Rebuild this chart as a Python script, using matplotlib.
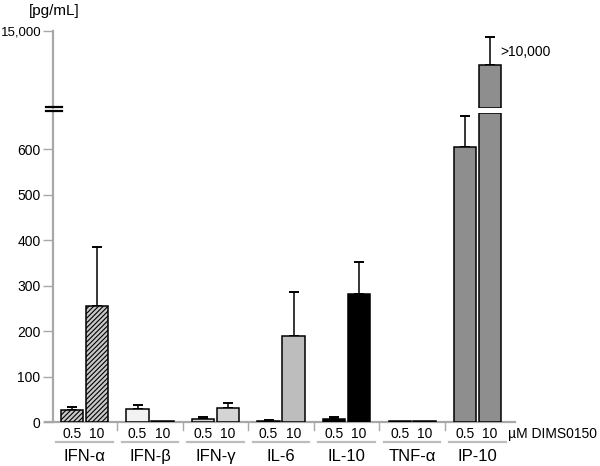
import matplotlib
matplotlib.use("Agg")
import matplotlib.pyplot as plt
import numpy as np

plt.rcParams['font.family'] = ['Liberation Sans', 'DejaVu Sans']
plt.rcParams['hatch.linewidth'] = 0.8

cytokines = ["IFN-α", "IFN-β", "IFN-γ", "IL-6", "IL-10", "TNF-α", "IP-10"]
conc_labels = ["0.5", "10"]
vals_05 = [26, 28, 6, 2, 6, 1.5, 605]
errs_05 = [6, 9, 4, 2, 4, 0, 68]
vals_10 = [255, 1.5, 30, 190, 282, 1.5, 10600]
errs_10 = [130, 0, 11, 95, 70, 0, 3600]
facecolors = ["#c8c8c8", "#f2f2f2", "#d4d4d4", "#bdbdbd", "#000000", "#000000", "#8e8e8e"]
hatches = ["///////", None, None, None, None, None, None]
lower_ticks = [0, 100, 200, 300, 400, 500, 600]
upper_ticks = [15000]

LOW_MAX = 679
UP_MIN, UP_MAX = 5000, 15000
GRAY = "#a8a8a8"

fig = plt.figure(figsize=(6.0, 4.66), dpi=100)
ax = fig.add_axes([53/600, 1-422/466, 462/600, (422-113.3)/466])
axu = fig.add_axes([53/600, 1-108/466, 462/600, (108-31)/466])

x = np.arange(len(cytokines))
w = 0.34
off = 0.19
xlim = (-0.48, 6.57)

for a in (ax, axu):
    a.set_xlim(*xlim)
    for s in ("top", "right", "bottom"):
        a.spines[s].set_visible(False)
    a.spines["left"].set_color(GRAY)
    a.spines["left"].set_linewidth(1.6)
    a.tick_params(axis="y", direction="out", length=7, width=1.0, color=GRAY,
                  labelsize=10, pad=2)
    a.set_xticks([])
axu.tick_params(axis="y", labelsize=9.5, pad=1.5)

ax.set_ylim(0, LOW_MAX)
ax.set_yticks(lower_ticks)
axu.set_ylim(UP_MIN, UP_MAX)
axu.set_yticks(upper_ticks)
axu.set_yticklabels([f"{t:,}" for t in upper_ticks])

for i in range(len(cytokines)):
    for xpos, v, e in ((x[i]-off, vals_05[i], errs_05[i]), (x[i]+off, vals_10[i], errs_10[i])):
        kw = dict(width=w, color=facecolors[i], edgecolor="black", linewidth=1.1,
                  hatch=hatches[i], zorder=3)
        low_h = min(v, LOW_MAX)
        ax.bar(xpos, low_h, **kw)
        if v > LOW_MAX:
            axu.bar(xpos, v - UP_MIN, bottom=UP_MIN, **kw)
            if e > 0:
                axu.errorbar(xpos, v, yerr=[[0], [e]], fmt="none", ecolor="black",
                             elinewidth=1.1, capsize=3.6, capthick=1.4, zorder=2)
        elif e > 0:
            ax.errorbar(xpos, v, yerr=[[0], [e]], fmt="none", ecolor="black",
                        elinewidth=1.1, capsize=3.6, capthick=1.4, zorder=2)

# baseline
ax.plot([-0.603, xlim[1]], [0, 0], color=GRAY, lw=1.6, clip_on=False, zorder=2)

xt = ax.get_xaxis_transform()
for i in range(len(cytokines) - 1):
    ax.plot([x[i]+0.5, x[i]+0.5], [0, -0.026], color=GRAY, lw=1.0,
            transform=xt, clip_on=False)
for i, name in enumerate(cytokines):
    ax.text(x[i]-off, -0.039, conc_labels[0], transform=xt, ha="center", va="center", fontsize=10)
    ax.text(x[i]+off, -0.039, conc_labels[1], transform=xt, ha="center", va="center", fontsize=10)
    ax.plot([x[i]-0.43, x[i]+0.43], [-0.066, -0.066], color="#bdbdbd", lw=1.6,
            transform=xt, clip_on=False)
    ax.text(x[i], -0.111, name, transform=xt, ha="center", va="center", fontsize=12)

ax.text(6.466, -0.039, "µM DIMS0150", transform=xt, ha="left", va="center", fontsize=10)
axu.text(6.34, 12273, ">10,000", ha="left", va="center", fontsize=10)
fig.text(54/600, 1-11/466, "[pg/mL]", ha="center", va="center", fontsize=11)

# break marker on y axis
for ypx in (106.5, 111.2):
    fig.add_artist(plt.Line2D([46/600, 62/600], [1-ypx/466, 1-ypx/466],
                              color="black", lw=1.6))

fig.savefig("out.png", dpi=100)
